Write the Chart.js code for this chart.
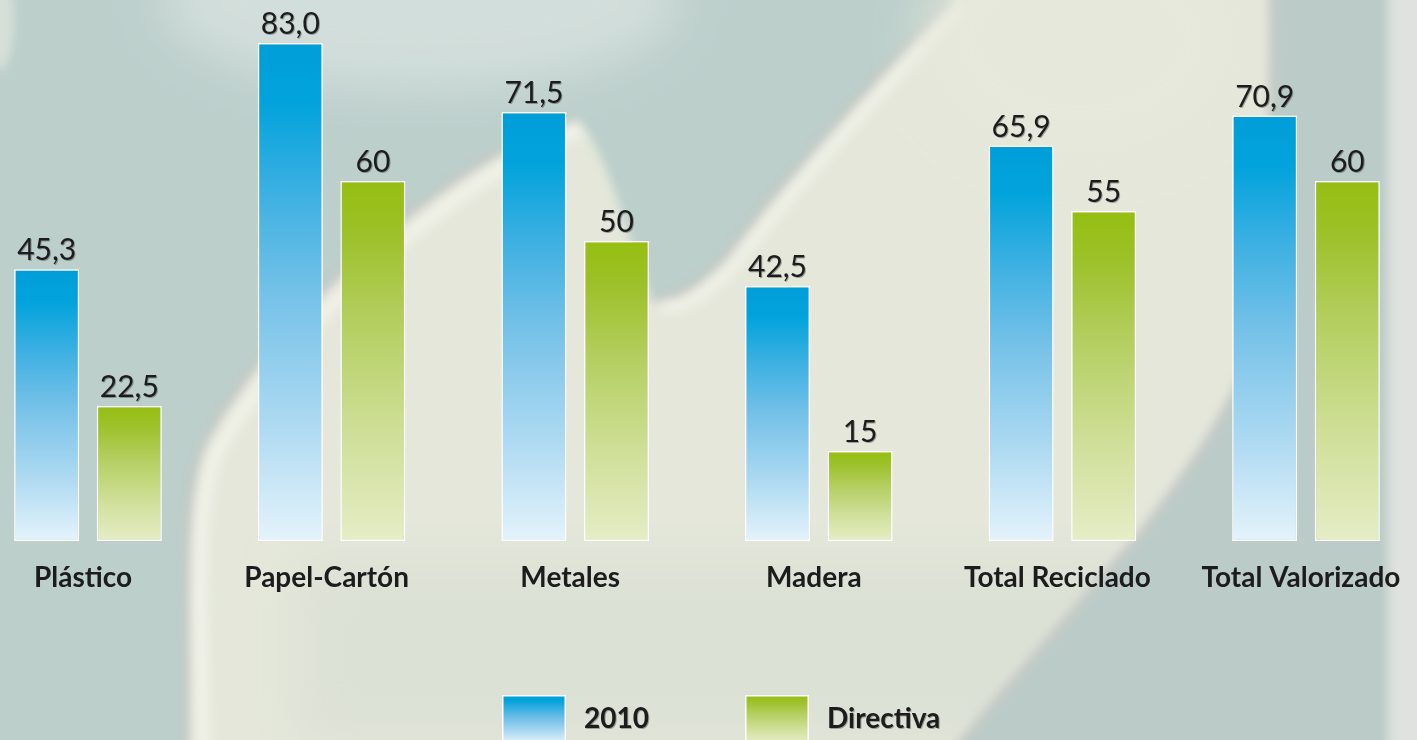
<!DOCTYPE html>
<html>
<head>
<meta charset="utf-8">
<script src="https://cdn.jsdelivr.net/npm/chart.js@4"></script>
<style>
  html, body { margin: 0; padding: 0; overflow: hidden; background: #e4e7db; }
  #wrap { position: relative; width: 1417px; height: 740px; }
  #bg, #c { position: absolute; left: 0; top: 0; }
</style>
</head>
<body>
<div id="wrap">
  <!-- blurry swirl backdrop -->
  <svg id="bg" width="1417" height="740" xmlns="http://www.w3.org/2000/svg">
    <defs>
      <filter id="blur" x="-10%" y="-10%" width="120%" height="120%">
        <feGaussianBlur stdDeviation="5"/>
      </filter>
      <filter id="soft" x="-20%" y="-20%" width="140%" height="140%">
        <feGaussianBlur stdDeviation="25"/>
      </filter>
    </defs>
    <rect width="1417" height="740" fill="#e4e7da"/>
    <rect x="300" y="560" width="900" height="180" fill="#dce1d5" filter="url(#soft)"/>
    <g filter="url(#blur)">
      <path d="M-30,-30 L980,-30 L948,0 C900,50 790,170 724,253 C700,280 670,300 650,295 C630,250 610,150 575,118 C540,125 470,165 410,213 C330,275 250,360 205,440 C190,470 186,520 186,600 L186,770 L-30,770 Z" fill="#bccfcb"/>
      <path d="M952,0 C900,50 790,170 726,255 C700,282 672,302 652,298" fill="none" stroke="#c3c7c3" stroke-width="7"/>
      <path d="M962,6 C910,58 800,178 736,262 C712,290 684,310 662,306" fill="none" stroke="#eef0e5" stroke-width="14"/>
      <path d="M575,118 C540,125 470,165 410,213 C330,275 250,360 205,440 C190,470 186,520 186,600 L186,770" fill="none" stroke="#c4c8c4" stroke-width="7"/>
      <path d="M582,130 C548,138 480,178 420,226 C342,288 262,372 218,450 C204,478 200,526 200,604 L204,770" fill="none" stroke="#eff0e6" stroke-width="16"/>
      <path d="M1268,-30 L1392,-30 L1392,770 L935,770 C1000,690 1080,600 1140,530 C1200,450 1268,360 1268,250 Z" fill="#bbcbc8"/>
      <path d="M1272,-30 L1272,250 C1272,360 1204,450 1144,530 C1084,600 1004,690 939,770" fill="none" stroke="#c6cac6" stroke-width="8"/>
      <rect x="1388" y="-30" width="60" height="800" fill="#dfe2de"/>
      <ellipse cx="0" cy="20" rx="14" ry="50" fill="#e2e6de" opacity="0.7"/>
    </g>
    <ellipse cx="420" cy="0" rx="260" ry="90" fill="#d7e1de" filter="url(#soft)" opacity="0.85"/>
    <ellipse cx="1080" cy="40" rx="160" ry="120" fill="#e6e9dc" filter="url(#soft)" opacity="0.7"/>
  </svg>
  <canvas id="c" width="1417" height="740"></canvas>
</div>
<script>
// chart values
const categories = ["Plástico", "Papel-Cartón", "Metales", "Madera", "Total Reciclado", "Total Valorizado"];
const values2010 = [45.3, 83.0, 71.5, 42.5, 65.9, 70.9];
const valuesDirectiva = [22.5, 60, 50, 15, 55, 60];
const seriesNames = ["2010", "Directiva"];

const blueStops = [[0, "#009ed8"], [0.12, "#02a3dc"], [0.3, "#3cb0e2"], [0.5, "#74c1e8"], [0.75, "#aad8f1"], [1, "#e4f3fb"]];
const greenStops = [[0, "#96be10"], [0.15, "#9dc12a"], [0.4, "#b5cf62"], [0.7, "#cfdf98"], [1, "#e5edc6"]];

function makeGradient(ctx, y0, y1, stops) {
    const g = ctx.createLinearGradient(0, y0, 0, y1);
    stops.forEach(s => g.addColorStop(s[0], s[1]));
    return g;
}

// each bar gets its own top-to-bottom fade
function barFill(stops) {
    return function(context) {
        const chart = context.chart;
        if (!chart.chartArea || context.type !== "data") return stops[0][1];
        const y = chart.scales.y;
        const top = y.getPixelForValue(context.parsed.y);
        const bottom = y.getPixelForValue(0);
        return makeGradient(chart.ctx, top, bottom, stops);
    };
}

// comma decimals like the source
function fmt(v, decimals) {
    return v.toFixed(decimals).replace(".", ",");
}

const valueLabels = {
    id: "valueLabels",
    afterDatasetsDraw(chart) {
        const ctx = chart.ctx;
        ctx.save();
        ctx.font = "30px Lato";
        ctx.fillStyle = "#1c1c1c";
        ctx.textAlign = "center";
        ctx.textBaseline = "alphabetic";
        ctx.shadowColor = "rgba(0,0,0,0.3)";
        ctx.shadowOffsetX = 1;
        ctx.shadowOffsetY = 1;
        chart.data.datasets.forEach((ds, i) => {
            const meta = chart.getDatasetMeta(i);
            meta.data.forEach((bar, j) => {
                const v = ds.data[j];
                const dec = ds.decimals != null ? ds.decimals : (Number.isInteger(v) ? 0 : 1);
                ctx.fillText(fmt(v, dec), bar.x, bar.y - 9);
            });
        });
        ctx.restore();
    }
};

const bottomLegend = {
    id: "bottomLegend",
    afterDraw(chart) {
        const ctx = chart.ctx;
        const top = chart.height - 45;
        const items = [
            { x: 502, text: seriesNames[0], stops: blueStops },
            { x: 745, text: seriesNames[1], stops: greenStops }
        ];
        ctx.save();
        items.forEach(it => {
            ctx.fillStyle = makeGradient(ctx, top, top + 48, it.stops);
            ctx.fillRect(it.x, top, 64, 50);
            ctx.strokeStyle = "#ffffff";
            ctx.lineWidth = 1.5;
            ctx.strokeRect(it.x + 0.75, top + 0.75, 62.5, 50);
            ctx.font = "bold 28px Lato";
            ctx.fillStyle = "#1c1c1c";
            ctx.textAlign = "left";
            ctx.textBaseline = "middle";
            ctx.shadowColor = "rgba(0,0,0,0.3)";
            ctx.shadowOffsetX = 1;
            ctx.shadowOffsetY = 1;
            ctx.fillText(it.text, it.x + 82, top + 24);
            ctx.shadowColor = "transparent";
        });
        ctx.restore();
    }
};

new Chart(document.getElementById("c"), {
    type: "bar",
    data: {
        labels: categories,
        datasets: [
            {
                label: seriesNames[0],
                data: values2010,
                decimals: 1,
                backgroundColor: barFill(blueStops),
                borderColor: "#ffffff",
                borderWidth: 1.5,
                borderSkipped: false,
                clip: false
            },
            {
                label: seriesNames[1],
                data: valuesDirectiva,
                backgroundColor: barFill(greenStops),
                borderColor: "#ffffff",
                borderWidth: 1.5,
                borderSkipped: false,
                clip: false
            }
        ]
    },
    options: {
        responsive: false,
        devicePixelRatio: 1,
        animation: false,
        categoryPercentage: 0.678,
        barPercentage: 0.788,
        layout: { padding: { left: 88, right: 111, top: 1, bottom: 125.4 } },
        scales: {
            x: {
                offset: false,
                grid: { display: false, drawTicks: false },
                border: { display: false },
                ticks: {
                    autoSkip: false,
                    maxRotation: 0,
                    padding: 4,
                    labelOffset: -5,
                    color: "#1c1c1c",
                    font: { family: "Lato", size: 28, weight: "bold", lineHeight: 2.343 }
                }
            },
            y: { display: false, min: 0, max: 90 }
        },
        plugins: {
            legend: { display: false },
            tooltip: { enabled: false }
        }
    },
    plugins: [valueLabels, bottomLegend]
});
</script>
</body>
</html>
